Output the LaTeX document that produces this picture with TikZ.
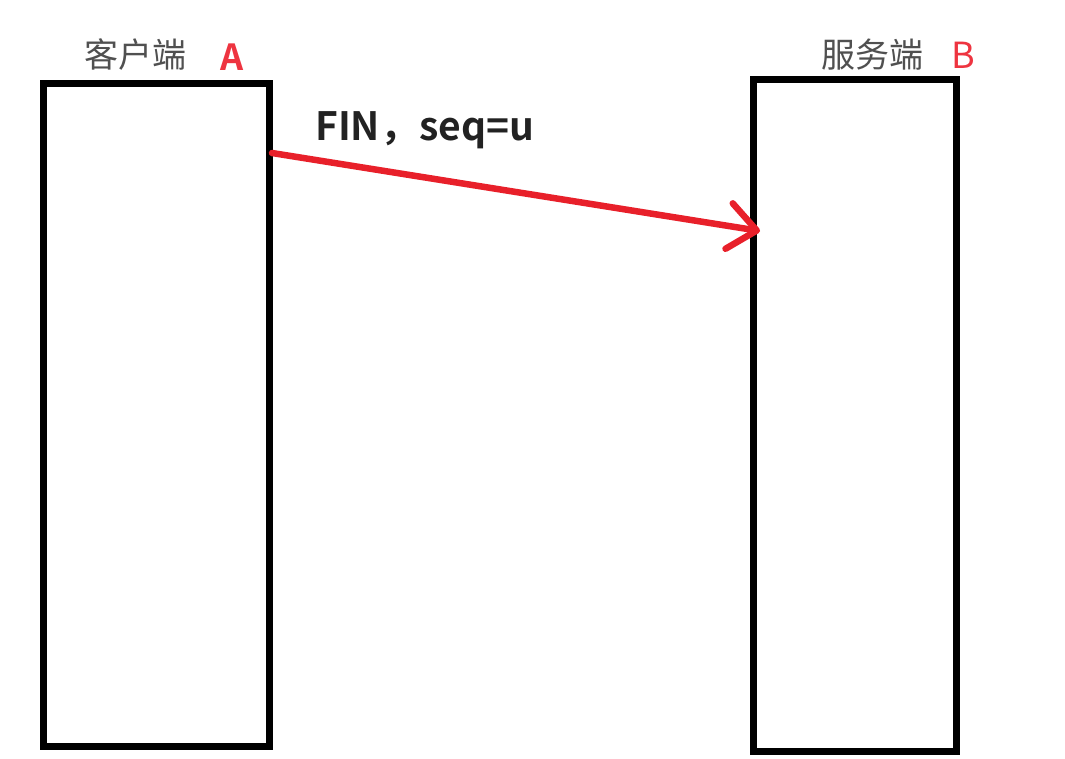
\documentclass[tikz,border=0pt]{standalone}
\usepackage{fontspec}
\usetikzlibrary{arrows.meta}
\newfontfamily\cjk{Noto Sans CJK SC}
\newfontfamily\cjkb{Noto Sans CJK SC Bold}
\definecolor{linered}{HTML}{E8202A}
\definecolor{labred}{HTML}{EE3440}
\definecolor{labgray}{HTML}{505050}
\definecolor{txtdark}{HTML}{222222}
\tikzset{
  hostbox/.style={draw=black, line width=7pt, inner sep=0pt, fill=white},
  hostlabel/.style={font=\cjk\fontsize{34}{40}\selectfont, text=labgray, inner sep=0pt},
  letterlab/.style={text=labred, inner sep=0pt},
  msg/.style={draw=linered, line width=6.5pt, line cap=round,
    -{Straight Barb[length=28pt,width=46pt,line width=6.5pt,round]}},
  msglabel/.style={font=\cjkb\fontsize{39}{45}\selectfont, text=txtdark, inner sep=0pt}
}
\begin{document}
\begin{tikzpicture}[x=1pt,y=-1pt]
\useasboundingbox (0,0) rectangle (1065,758);
\node[hostbox, minimum width=226pt, minimum height=663pt] (A) at (156.5,415) {};
\node[hostbox, minimum width=203pt, minimum height=672pt] (B) at (855,415.5) {};
\node[hostlabel] (la) at (135,55) {客户端};
\node[letterlab, font=\cjkb\fontsize{36}{42}\selectfont] (lA) at (232,57) {A};
\node[hostlabel] (lb) at (872,55) {服务端};
\node[letterlab, font=\cjk\fontsize{36}{42}\selectfont] (lB) at (963,55) {B};
\coordinate (fs) at (272,153);
\coordinate (fe) at (760,231);
\draw[msg] (fs) -- (fe);
\node[msglabel, anchor=west] (fin) at (315,130) {FIN，seq=u};
\end{tikzpicture}
\end{document}
